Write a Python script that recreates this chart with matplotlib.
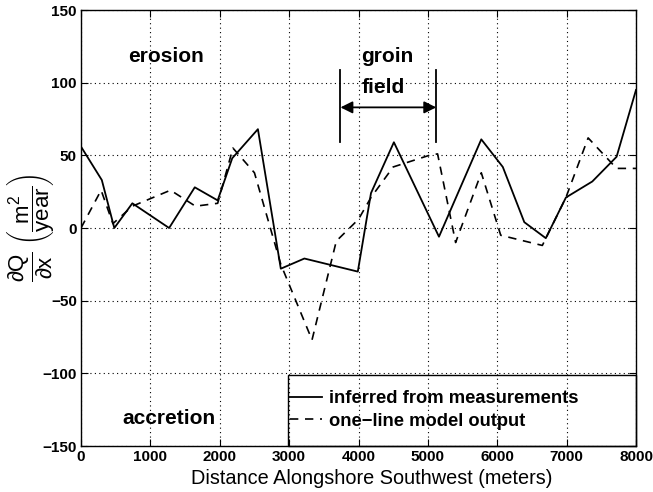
import matplotlib
matplotlib.use("Agg")
import matplotlib.pyplot as plt
from matplotlib.patches import Rectangle

plt.rcParams['font.family'] = ['Liberation Sans', 'DejaVu Sans']
plt.rcParams['mathtext.fontset'] = 'custom'
plt.rcParams['mathtext.rm'] = 'Liberation Sans'
plt.rcParams['mathtext.it'] = 'Liberation Sans'
plt.rcParams['mathtext.bf'] = 'Liberation Sans:bold'

# Solid: inferred from measurements
meas_x = [0, 300, 480, 740, 1270, 1640, 1970, 2180, 2550, 2880, 3220, 3990,
          4180, 4510, 5160, 5770, 6080, 6390, 6700, 6990, 7370, 7720, 8000]
meas_y = [56, 33, 0, 17, 0, 28, 19, 48, 68, -28, -21, -30,
          24, 59, -6, 61, 42, 4, -7, 21, 32, 49, 95]

# Dashed: one-line model output
model_x = [0, 290, 460, 740, 1290, 1650, 1970, 2190, 2500, 2880, 3330, 3680,
           4000, 4180, 4500, 5020, 5140, 5400, 5770, 6050, 6650, 6990, 7310,
           7720, 8000]
model_y = [0, 26, 3, 15, 26, 15, 17, 55, 38, -25, -77, -9,
           6, 21, 42, 50, 51, -10, 38, -5, -12, 21, 62,
           41, 41]

xticks = [0, 1000, 2000, 3000, 4000, 5000, 6000, 7000, 8000]
yticks = [-150, -100, -50, 0, 50, 100, 150]

fig = plt.figure(figsize=(6.53, 4.92), dpi=100)
ax = fig.add_axes([81/653, 46/492, 555/653, 436/492])

ax.plot(meas_x, meas_y, color='black', lw=1.3, label='inferred from measurements')
ax.plot(model_x, model_y, color='black', lw=1.2, linestyle=(0, (5, 4)),
        label='one\u2212line model output')

ax.set_xlim(0, 8000)
ax.set_ylim(-150, 150)
ax.set_xticks(xticks)
ax.set_yticks(yticks)
ax.set_yticklabels([str(v).replace('-', '\u2212') for v in yticks])
ax.grid(True, color='black', linestyle=(0, (1, 3)), linewidth=0.8)
ax.tick_params(direction='in', length=5, labelsize=11, colors='black',
               top=True, right=True, pad=3)
for lbl in ax.get_xticklabels() + ax.get_yticklabels():
    lbl.set_fontweight('bold')
for s in ax.spines.values():
    s.set_linewidth(1.0)

ax.set_xlabel('Distance Alongshore Southwest (meters)', fontsize=14.3)
ax.xaxis.set_label_coords(0.523, -0.052)
ax.xaxis.label.set_va('top')
ax.set_ylabel(r'$\dfrac{\partial Q}{\partial x}\ \left(\dfrac{\mathrm{m}^2}{\mathrm{year}}\right)$',
              fontsize=16)
ax.yaxis.set_label_coords(-0.045, 0.5)

ax.text(1227, 118, 'erosion', fontsize=15, ha='center', va='center', fontweight='bold')
ax.text(1270, -131, 'accretion', fontsize=15, ha='center', va='center', fontweight='bold')
ax.text(4415, 118, 'groin', fontsize=15, ha='center', va='center', fontweight='bold')
ax.text(4360, 97, 'field', fontsize=15, ha='center', va='center', fontweight='bold')

ax.plot([3740, 3740], [59, 109], color='black', lw=1.3)
ax.plot([5120, 5120], [59, 109], color='black', lw=1.3)
ax.annotate('', xy=(3740, 83), xytext=(5120, 83),
            arrowprops=dict(arrowstyle='<|-|>', color='black', lw=1.3,
                            mutation_scale=18, shrinkA=0, shrinkB=0))

leg = ax.legend(loc='center left', bbox_to_anchor=(0.3766, 0.0826),
                fontsize=13.2, frameon=False, borderaxespad=0, borderpad=0,
                handlelength=1.75, handletextpad=0.35, labelspacing=0.3)
for t in leg.get_texts():
    t.set_fontweight('bold')
ax.add_patch(Rectangle((0.373, 0.0), 0.627, 0.163, transform=ax.transAxes,
                       fill=False, edgecolor='black', linewidth=1.0,
                       clip_on=False, zorder=4))

fig.savefig('out.png', dpi=100)
